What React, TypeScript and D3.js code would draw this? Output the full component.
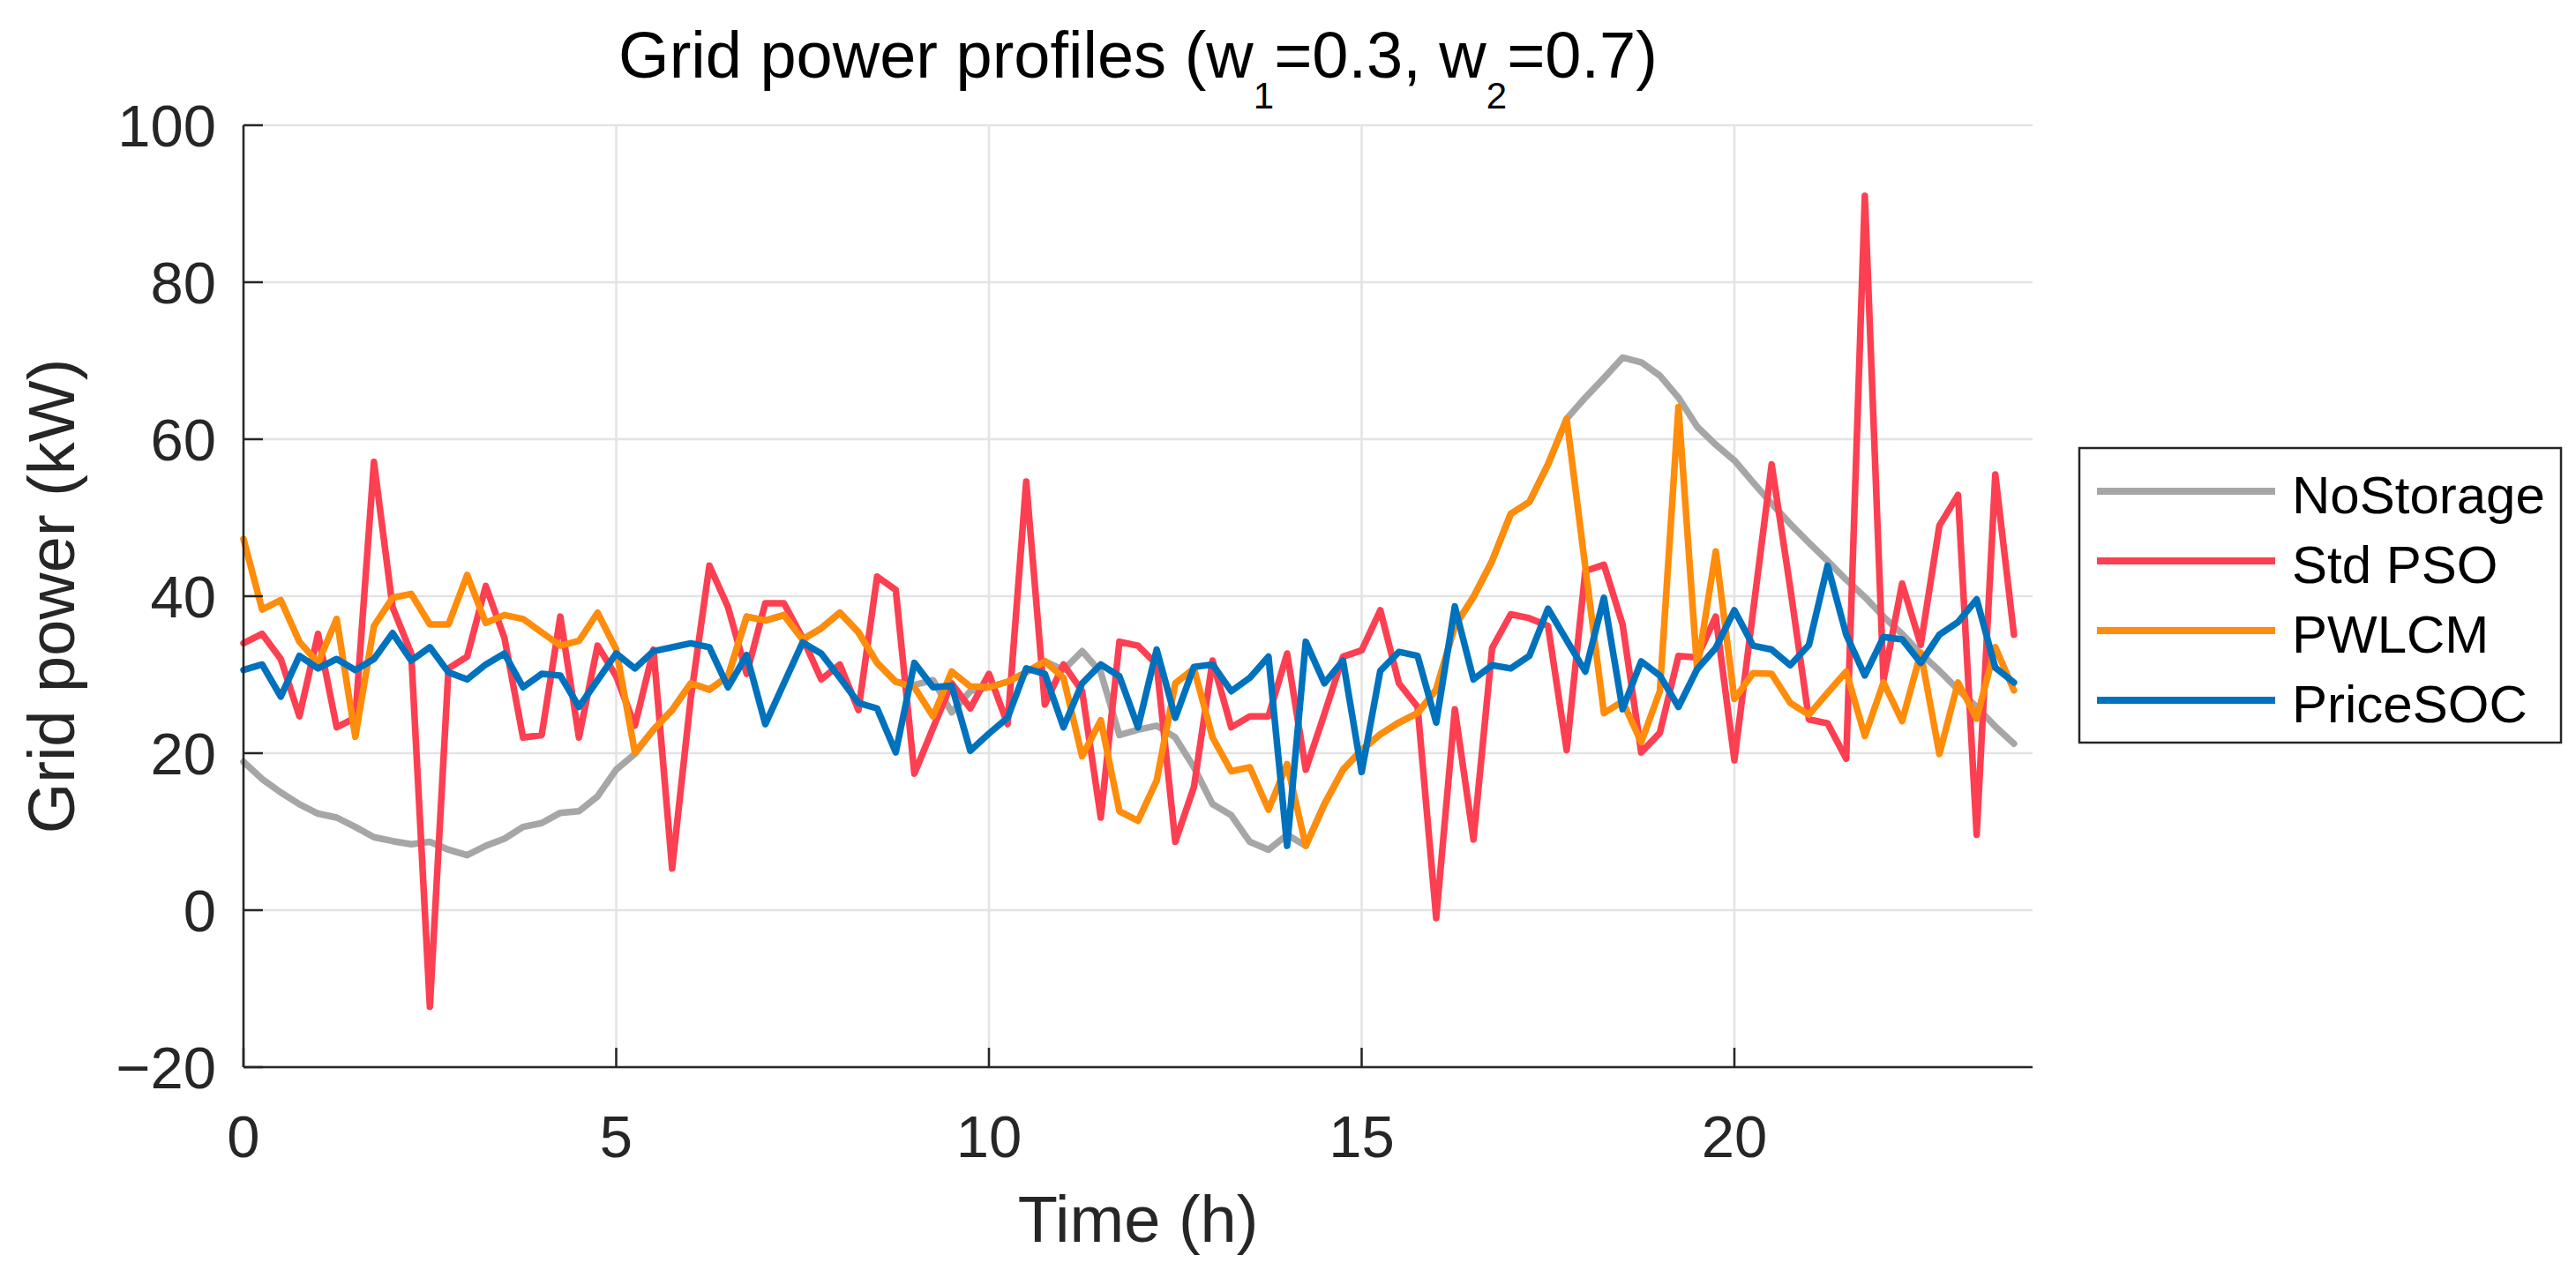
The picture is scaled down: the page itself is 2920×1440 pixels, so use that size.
import * as d3 from "d3";

// 15-minute steps over one day
const hours = d3.range(96).map((i) => i / 4);

const noStorage = [
  18.9, 16.7, 15.0, 13.5, 12.3, 11.8, 10.6, 9.3, 8.8, 8.4, 8.7, 7.7,
  7.0, 8.2, 9.1, 10.6, 11.1, 12.4, 12.6, 14.5, 17.9, 19.9, 23.0, 25.5,
  28.9, 28.1, 29.8, 37.4, 36.9, 37.6, 34.5, 35.9, 37.9, 35.4, 31.5, 29.1,
  28.7, 29.3, 25.2, 27.9, 28.4, 29.1, 30.3, 31.7, 30.6, 33.0, 30.3, 22.3,
  23.0, 23.5, 22.0, 18.2, 13.5, 12.1, 8.7, 7.7, 9.6, 8.2, 13.5, 17.9,
  20.4, 22.4, 23.9, 25.1, 28.1, 36.2, 39.9, 44.5, 50.5, 52.0, 56.8, 62.6,
  65.3, 67.8, 70.4, 69.8, 68.1, 65.3, 61.6, 59.3, 57.3, 54.5, 51.8, 49.2,
  46.8, 44.5, 42.1, 39.9, 37.4, 35.2, 32.7, 30.5, 28.1, 25.9, 23.4, 21.2,
];

const stdPso = [
  34.0, 35.2, 32.0, 24.7, 35.2, 23.3, 24.5, 57.1, 38.6, 32.7, -12.3, 30.8,
  32.3, 41.3, 34.7, 22.0, 22.3, 37.4, 22.0, 33.7, 29.8, 23.5, 33.2, 5.3,
  27.0, 43.9, 38.6, 30.1, 39.1, 39.1, 34.7, 29.4, 31.3, 25.5, 42.5, 40.8,
  17.4, 23.2, 28.9, 25.7, 30.1, 23.7, 54.6, 26.2, 31.3, 27.9, 11.8, 34.2,
  33.7, 31.3, 8.7, 15.7, 31.8, 23.3, 24.7, 24.7, 32.7, 17.9, 25.0, 32.3,
  33.1, 38.2, 28.9, 25.9, -1.0, 25.6, 9.0, 33.4, 37.7, 37.2, 36.2, 20.4,
  43.2, 44.0, 36.4, 20.1, 22.6, 32.4, 32.2, 37.4, 19.1, 38.0, 56.8, 41.0,
  24.3, 23.8, 19.3, 91.0, 29.3, 41.6, 33.8, 49.0, 52.9, 9.6, 55.5, 35.1,
];

const pwlcm = [
  47.3, 38.3, 39.5, 34.2, 31.5, 37.1, 22.1, 36.2, 39.8, 40.3, 36.4, 36.4,
  42.7, 36.6, 37.6, 37.1, 35.4, 33.7, 34.3, 37.9, 33.2, 20.1, 23.0, 25.5,
  28.9, 28.1, 29.8, 37.4, 36.9, 37.6, 34.5, 35.9, 37.9, 35.4, 31.5, 29.1,
  28.4, 24.7, 30.4, 28.5, 28.4, 29.1, 30.3, 31.7, 29.6, 19.6, 24.2, 12.6,
  11.4, 16.5, 28.9, 30.8, 22.0, 17.7, 18.2, 12.8, 18.6, 8.2, 13.5, 17.9,
  20.4, 22.4, 23.9, 25.1, 28.1, 36.2, 39.9, 44.5, 50.5, 52.0, 56.8, 62.6,
  43.7, 25.1, 26.6, 21.4, 27.9, 64.1, 30.7, 45.7, 26.9, 30.2, 30.1, 26.4,
  24.9, 27.7, 30.4, 22.2, 29.0, 24.1, 32.8, 19.9, 29.0, 24.4, 33.5, 28.0,
];

const priceSoc = [
  30.6, 31.3, 27.2, 32.4, 30.8, 32.0, 30.6, 32.0, 35.3, 31.8, 33.5, 30.3,
  29.4, 31.3, 32.7, 28.4, 30.1, 29.9, 25.9, 29.3, 32.7, 30.8, 33.0, 33.5,
  34.0, 33.5, 28.4, 32.5, 23.7, 28.9, 34.1, 32.7, 29.6, 26.4, 25.7, 20.1,
  31.5, 28.4, 28.6, 20.3, 22.5, 24.5, 30.8, 30.1, 23.3, 28.9, 31.3, 29.8,
  23.3, 33.2, 24.5, 31.0, 31.3, 27.9, 29.6, 32.3, 8.2, 34.2, 28.9, 31.8,
  17.6, 30.5, 32.9, 32.4, 23.9, 38.7, 29.4, 31.2, 30.8, 32.4, 38.4, 34.4,
  30.4, 39.8, 25.6, 31.7, 29.9, 25.9, 30.7, 33.4, 38.2, 33.7, 33.2, 31.2,
  33.8, 43.9, 35.1, 29.9, 34.8, 34.5, 31.5, 35.1, 36.7, 39.6, 30.9, 29.0,
];

const seriesNames = ["NoStorage", "Std PSO", "PWLCM", "PriceSOC"];
const seriesColors = ["#a6a6a6", "#fd3f52", "#ff8c0a", "#0072bd"];
const seriesValues = [noStorage, stdPso, pwlcm, priceSoc];

const xTicks = [0, 5, 10, 15, 20];
const yTicks = [-20, 0, 20, 40, 60, 80, 100];

const W = 2920;
const H = 1440;
const left = 276;
const right = 2304;
const top = 142;
const bottom = 1210;
const font = "'Liberation Sans', Arial, Helvetica, sans-serif";
const axisColor = "#262626";

export default function App() {
  const x = d3.scaleLinear().domain([0, 24]).range([left, right]);
  const y = d3.scaleLinear().domain([-20, 100]).range([bottom, top]);

  const line = d3
    .line<number>()
    .x((_, i) => x(hours[i]))
    .y((d) => y(d));

  const fmt = (v: number) => (v < 0 ? `\u2212${Math.abs(v)}` : `${v}`);

  return (
    <div style={{ position: "fixed", left: 0, top: 0 }}>
      <svg width={W} height={H} viewBox={`0 0 ${W} ${H}`} style={{ display: "block", background: "#fff" }}>
        <rect width={W} height={H} fill="#fff" />

        {/* grid */}
        {yTicks.map((t) => (
          <line key={`gy${t}`} x1={left} x2={right} y1={y(t)} y2={y(t)} stroke="#e3e3e3" strokeWidth={2.5} />
        ))}
        {xTicks.map((t) => (
          <line key={`gx${t}`} x1={x(t)} x2={x(t)} y1={top} y2={bottom} stroke="#e3e3e3" strokeWidth={2.5} />
        ))}

        {/* series */}
        {seriesValues.map((vals, k) => (
          <path
            key={seriesNames[k]}
            d={line(vals) ?? ""}
            fill="none"
            stroke={seriesColors[k]}
            strokeWidth={7.5}
            strokeLinejoin="round"
            strokeLinecap="round"
          />
        ))}

        {/* axes */}
        <line x1={left} x2={left} y1={top} y2={bottom} stroke={axisColor} strokeWidth={2.5} />
        <line x1={left} x2={right} y1={bottom} y2={bottom} stroke={axisColor} strokeWidth={2.5} />
        {yTicks.map((t) => (
          <g key={`ty${t}`}>
            <line x1={left} x2={left + 22} y1={y(t)} y2={y(t)} stroke={axisColor} strokeWidth={2.5} />
            <text x={245} y={y(t) + 24} textAnchor="end" fontFamily={font} fontSize={67} fill={axisColor}>
              {fmt(t)}
            </text>
          </g>
        ))}
        {xTicks.map((t) => (
          <g key={`tx${t}`}>
            <line x1={x(t)} x2={x(t)} y1={bottom} y2={bottom - 22} stroke={axisColor} strokeWidth={2.5} />
            <text x={x(t)} y={1312} textAnchor="middle" fontFamily={font} fontSize={67} fill={axisColor}>
              {fmt(t)}
            </text>
          </g>
        ))}

        {/* labels */}
        <text x={(left + right) / 2} y={1408} textAnchor="middle" fontFamily={font} fontSize={74} fill={axisColor}>
          Time (h)
        </text>
        <text
          transform={`translate(84,${(top + bottom) / 2}) rotate(-90)`}
          textAnchor="middle"
          fontFamily={font}
          fontSize={74}
          fill={axisColor}
        >
          Grid power (kW)
        </text>
        <text x={(left + right) / 2} y={88} textAnchor="middle" fontFamily={font} fontSize={74} fill="#000">
          Grid power profiles (w
          <tspan fontSize={42} dy={35}>1</tspan>
          <tspan dy={-35}>=0.3, w</tspan>
          <tspan fontSize={42} dy={35}>2</tspan>
          <tspan dy={-35}>=0.7)</tspan>
        </text>

        {/* legend */}
        <rect x={2357} y={508} width={546} height={334} fill="#fff" stroke={axisColor} strokeWidth={2.5} />
        {seriesNames.map((name, k) => {
          const cy = 557 + k * 79;
          return (
            <g key={`lg${name}`}>
              <line x1={2377} x2={2579} y1={cy} y2={cy} stroke={seriesColors[k]} strokeWidth={8} />
              <text x={2598} y={cy + 25} fontFamily={font} fontSize={60} fill="#000">
                {name}
              </text>
            </g>
          );
        })}
      </svg>
    </div>
  );
}
